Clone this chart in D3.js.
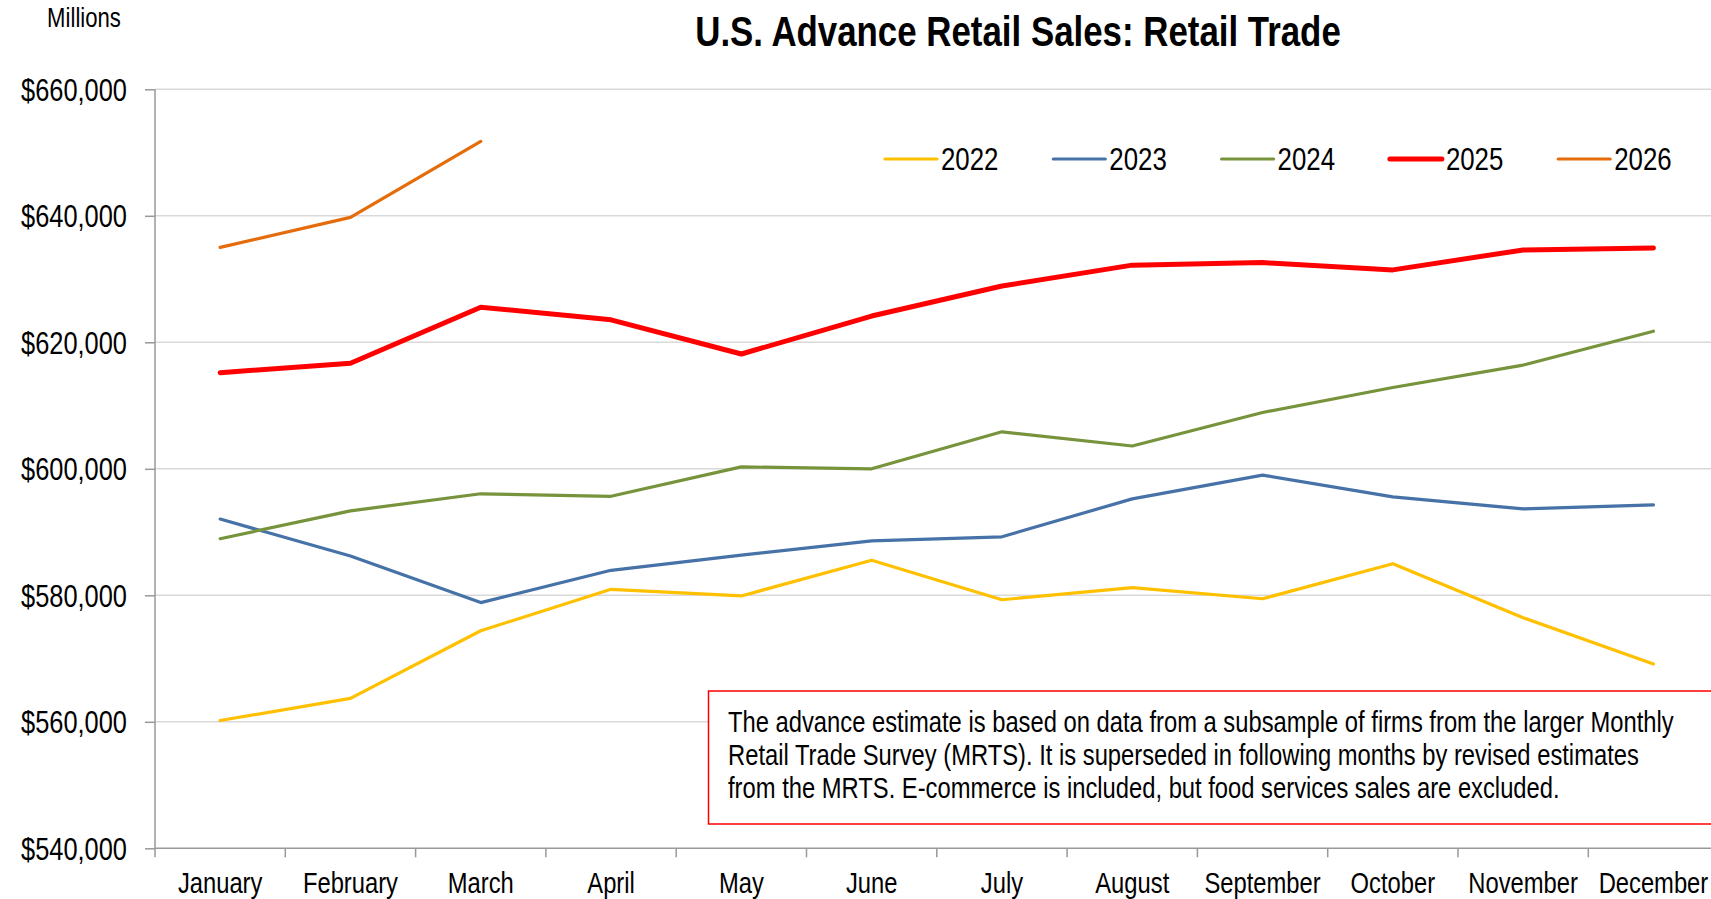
<!DOCTYPE html>
<html>
<head>
<meta charset="utf-8">
<script src="https://cdn.jsdelivr.net/npm/d3@7"></script>
<style>
  body { margin: 0; background: #fff; }
  svg text { font-family: "Liberation Sans", Arial, sans-serif; fill: #000; }
</style>
</head>
<body>
<div id="chart"></div>
<script>
var width = 1711;
var height = 899;

var months = ["January", "February", "March", "April", "May", "June",
              "July", "August", "September", "October", "November", "December"];
var years = ["2022", "2023", "2024", "2025", "2026"];
var sales2022 = [560200, 563700, 574400, 580950, 579900, 585550, 579300, 581200, 579450, 585000, 576450, 569150];
var sales2023 = [592050, 586200, 578850, 583950, 586350, 588600, 589250, 595250, 599000, 595550, 593650, 594300];
var sales2024 = [588950, 593350, 596050, 595650, 600300, 600000, 605850, 603600, 608900, 612850, 616400, 621750];
var sales2025 = [615200, 616700, 625550, 623550, 618150, 624150, 628900, 632200, 632600, 631450, 634600, 634900];
var sales2026 = [635000, 639750, 651750];
var yTicks = [540000, 560000, 580000, 600000, 620000, 640000, 660000];
var note = ["The advance estimate is based on data from a subsample of firms from the larger Monthly",
            "Retail Trade Survey (MRTS). It is superseded in following months by revised estimates",
            "from the MRTS. E-commerce is included, but food services sales are excluded."];

var series = [
  {year: years[0], values: sales2022, color: "#FFC000", w: 3.2},
  {year: years[1], values: sales2023, color: "#4672A8", w: 3.2},
  {year: years[2], values: sales2024, color: "#77933C", w: 3.2},
  {year: years[3], values: sales2025, color: "#FF0000", w: 5},
  {year: years[4], values: sales2026, color: "#E46C0A", w: 3.2}
];

var plotLeft = 155, plotTop = 89.3, plotBottom = 848.3, band = 130.3;
var squeeze = 0.82; // no Arial Narrow here, so squash Liberation Sans

// turn x/y of a text into a translate + horizontal squeeze
function narrow(sel) {
  sel.each(function() {
    var t = d3.select(this);
    var tx = +t.attr("x") || 0, ty = +t.attr("y") || 0;
    t.attr("x", 0).attr("y", 0)
     .attr("transform", `translate(${tx},${ty}) scale(${squeeze},1)`);
  });
}

var svg = d3.select("#chart").append("svg")
    .attr("width", width)
    .attr("height", height);

var x = d3.scaleBand()
    .domain(months)
    .range([plotLeft, plotLeft + band * months.length])
    .padding(0);

var y = d3.scaleLinear()
    .domain([540000, 660000])
    .range([plotBottom, plotTop]);

// gridlines
svg.append("g")
  .selectAll("line")
  .data(yTicks.slice(1))
  .enter().append("line")
  .attr("x1", plotLeft).attr("x2", width)
  .attr("y1", d => y(d)).attr("y2", d => y(d))
  .style("stroke", "#d9d9d9")
  .style("stroke-width", 1.5);

// y axis
var yAxis = svg.append("g")
    .attr("transform", `translate(${plotLeft},0)`)
    .call(d3.axisLeft(y).tickValues(yTicks).tickSize(10).tickPadding(18)
          .tickFormat(d => "$" + d3.format(",")(d)));
yAxis.select(".domain").remove();
yAxis.selectAll(".tick line").style("stroke", "#999").style("stroke-width", 1.5);
yAxis.selectAll(".tick text").style("font-size", "31px").attr("dy", "0.35em").call(narrow);
svg.append("line")
  .attr("x1", plotLeft).attr("x2", plotLeft).attr("y1", plotTop).attr("y2", plotBottom)
  .style("stroke", "#999").style("stroke-width", 1.5);

// x axis
svg.append("line")
  .attr("x1", plotLeft).attr("x2", width).attr("y1", plotBottom).attr("y2", plotBottom)
  .style("stroke", "#999").style("stroke-width", 1.5);
svg.append("g")
  .selectAll("line")
  .data(months)
  .enter().append("line")
  .attr("x1", d => x(d)).attr("x2", d => x(d))
  .attr("y1", plotBottom).attr("y2", plotBottom + 9)
  .style("stroke", "#999").style("stroke-width", 1.5);
var xAxis = svg.append("g")
    .attr("transform", `translate(0,${plotBottom})`)
    .call(d3.axisBottom(x).tickSize(0).tickPadding(24));
xAxis.select(".domain").remove();
xAxis.selectAll(".tick text").style("font-size", "29px").call(narrow);

// lines
var line = d3.line()
    .x((d, i) => x(months[i]) + x.bandwidth() / 2)
    .y(d => y(d));

svg.append("g")
  .selectAll("path")
  .data(series)
  .enter().append("path")
  .attr("d", d => line(d.values))
  .style("fill", "none")
  .style("stroke", d => d.color)
  .style("stroke-width", d => d.w)
  .style("stroke-linecap", "round")
  .style("stroke-linejoin", "round");

// title
svg.append("text")
  .attr("x", 1018).attr("y", 46)
  .attr("text-anchor", "middle")
  .style("font-size", "42.5px")
  .style("font-weight", "bold")
  .text("U.S. Advance Retail Sales: Retail Trade")
  .call(narrow);

svg.append("text")
  .attr("x", 84).attr("y", 27)
  .attr("text-anchor", "middle")
  .style("font-size", "27px")
  .text("Millions")
  .call(narrow);

// legend
var legend = svg.append("g")
  .selectAll("g")
  .data(series)
  .enter().append("g")
  .attr("transform", (d, i) => `translate(${885 + i * 168.3},159)`);
legend.append("line")
  .attr("x1", 0).attr("x2", 52)
  .style("stroke", d => d.color)
  .style("stroke-width", d => d.w)
  .style("stroke-linecap", "round");
legend.append("text")
  .attr("x", 56).attr("dy", "0.36em")
  .style("font-size", "31.5px")
  .text(d => d.year)
  .call(narrow);

// note box
svg.append("rect")
  .attr("x", 708.5).attr("y", 691).attr("width", 1020).attr("height", 133)
  .style("fill", "#fff")
  .style("stroke", "#FF0000")
  .style("stroke-width", 1.5);
svg.append("g")
  .selectAll("text")
  .data(note)
  .enter().append("text")
  .attr("x", 728)
  .attr("y", (d, i) => 732 + i * 33)
  .style("font-size", "29px")
  .text(d => d)
  .call(narrow);
</script>
</body>
</html>
